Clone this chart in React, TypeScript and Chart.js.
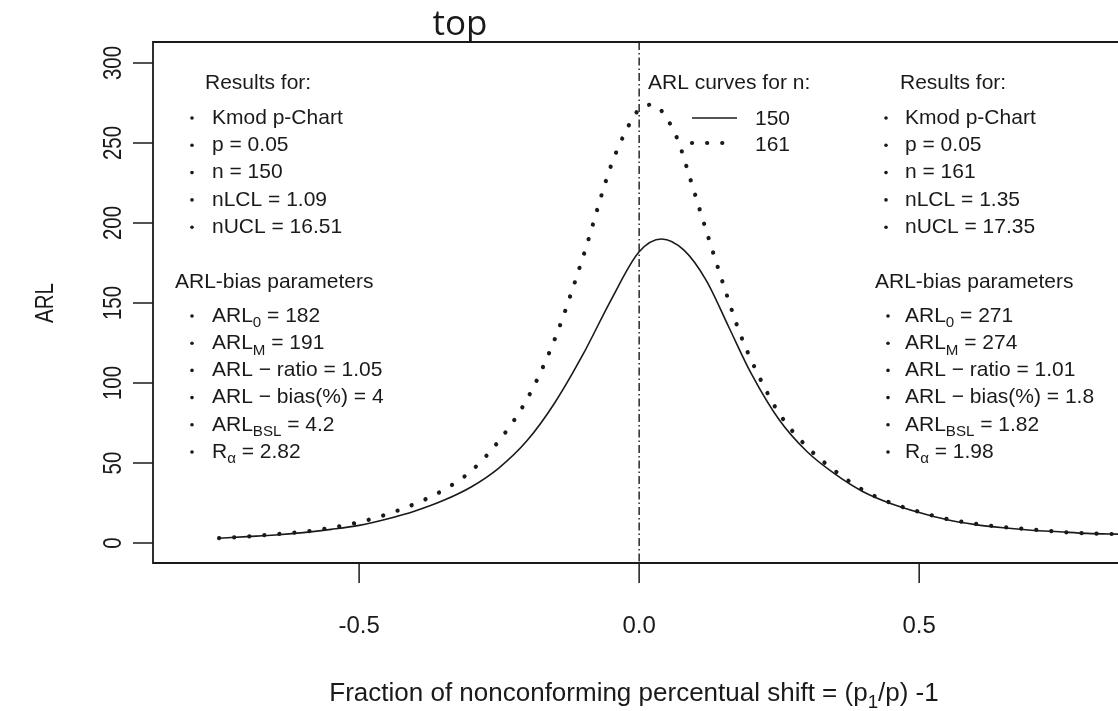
import { useEffect, useRef } from "react";
import { Chart, registerables } from "chart.js";

Chart.register(...registerables);

// ARL curve for n = 150 (solid)
const SHIFT_150 = [
  -0.75, -0.7, -0.65, -0.6, -0.55, -0.5, -0.45, -0.4, -0.35, -0.3, -0.25, -0.2, -0.15, -0.1, -0.05,
  0.0, 0.04, 0.08, 0.12, 0.16, 0.2, 0.25, 0.3, 0.35, 0.4, 0.45, 0.5, 0.55, 0.6, 0.65, 0.7, 0.75, 0.8, 0.86,
];
const ARL_150 = [
  3, 4, 5, 6.5, 8.5, 11, 15, 20, 26.5, 35, 47, 64, 88, 118, 152,
  182, 190, 183, 164, 135, 106, 77, 57, 43, 32, 24.5, 19, 14.5, 11.5, 9.5, 8, 7, 6, 5.5,
];

// ARL curve for n = 161 (dotted)
const SHIFT_161 = [
  -0.75, -0.7, -0.65, -0.6, -0.55, -0.5, -0.45, -0.4, -0.35, -0.3, -0.25, -0.2, -0.15, -0.1, -0.05, -0.02,
  0.0, 0.025, 0.05, 0.07, 0.09, 0.12, 0.15, 0.18, 0.21, 0.25, 0.3, 0.35, 0.4, 0.45, 0.5, 0.55, 0.6, 0.65,
  0.7, 0.75, 0.8, 0.86,
];
const ARL_161 = [
  3, 4, 5.5, 7, 9.5, 13, 18, 24.5, 33, 45, 64, 90, 128, 179, 236, 260,
  271, 274, 265, 251, 229, 195, 162, 131, 107, 81, 60, 45, 33, 25, 19.5, 15, 12, 10,
  8.5, 7, 6, 5.5,
];

const SERIES_LABELS = ["150", "161"];
const X_TICKS = [-0.5, 0, 0.5];
const X_TICK_LABELS = ["-0.5", "0.0", "0.5"];
const Y_TICKS = [0, 50, 100, 150, 200, 250, 300];
const X_RANGE = [-0.868, 0.855];
const Y_RANGE = [-12.5, 313.125];
const REFERENCE_SHIFT = 0;

// Text runs: [text, isSubscript]
type Run = [string, boolean];
const RESULTS_150: Run[][] = [
  [["Kmod p-Chart", false]],
  [["p = 0.05", false]],
  [["n = 150", false]],
  [["nLCL = 1.09", false]],
  [["nUCL = 16.51", false]],
];
const BIAS_150: Run[][] = [
  [["ARL", false], ["0", true], [" = 182", false]],
  [["ARL", false], ["M", true], [" = 191", false]],
  [["ARL \u2212 ratio = 1.05", false]],
  [["ARL \u2212 bias(%) = 4", false]],
  [["ARL", false], ["BSL", true], [" = 4.2", false]],
  [["R", false], ["\u03b1", true], [" = 2.82", false]],
];
const RESULTS_161: Run[][] = [
  [["Kmod p-Chart", false]],
  [["p = 0.05", false]],
  [["n = 161", false]],
  [["nLCL = 1.35", false]],
  [["nUCL = 17.35", false]],
];
const BIAS_161: Run[][] = [
  [["ARL", false], ["0", true], [" = 271", false]],
  [["ARL", false], ["M", true], [" = 274", false]],
  [["ARL \u2212 ratio = 1.01", false]],
  [["ARL \u2212 bias(%) = 1.8", false]],
  [["ARL", false], ["BSL", true], [" = 1.82", false]],
  [["R", false], ["\u03b1", true], [" = 1.98", false]],
];

const INK = "#1a1a1a";
const SANS = '"Liberation Sans", Arial, sans-serif';
const DOT_DASH = [0.1, 15];

function runsWidth(ctx: CanvasRenderingContext2D, runs: Run[], size: number) {
  let w = 0;
  for (const [t, sub] of runs) {
    ctx.font = `${sub ? size * 0.72 : size}px ${SANS}`;
    w += ctx.measureText(t).width;
  }
  return w;
}

function drawRuns(ctx: CanvasRenderingContext2D, x: number, y: number, runs: Run[], size: number) {
  let cx = x;
  for (const [text, sub] of runs) {
    const s = sub ? size * 0.72 : size;
    ctx.font = `${s}px ${SANS}`;
    ctx.fillText(text, cx, sub ? y + size * 0.34 : y);
    cx += ctx.measureText(text).width;
  }
}

function drawBlock(
  ctx: CanvasRenderingContext2D,
  header: string,
  hx: number,
  hy: number,
  bulletX: number,
  textX: number,
  firstY: number,
  rows: Run[][],
  size: number,
  step: number
) {
  ctx.font = `${size}px ${SANS}`;
  ctx.fillText(header, hx, hy);
  rows.forEach((runs, i) => {
    const y = firstY + i * step;
    ctx.beginPath();
    ctx.arc(bulletX, y, 1.8, 0, Math.PI * 2);
    ctx.fill();
    drawRuns(ctx, textX, y, runs, size);
  });
}

// rotated label, slightly widened across its baseline
function drawVertical(ctx: CanvasRenderingContext2D, text: string, x: number, y: number, size: number) {
  ctx.save();
  ctx.translate(x, y);
  ctx.rotate(-Math.PI / 2);
  ctx.scale(1, 1.22);
  ctx.font = `${size}px ${SANS}`;
  ctx.textAlign = "center";
  ctx.textBaseline = "middle";
  ctx.fillText(text, 0, 0);
  ctx.restore();
}

const decorations = {
  id: "decorations",
  beforeDatasetsDraw(chart: any) {
    const ctx: CanvasRenderingContext2D = chart.ctx;
    const { top, bottom } = chart.chartArea;
    const zx = chart.scales.x.getPixelForValue(REFERENCE_SHIFT);
    ctx.save();
    ctx.strokeStyle = INK;
    ctx.lineWidth = 1.4;
    ctx.setLineDash([8, 3, 1.5, 3]);
    ctx.beginPath();
    ctx.moveTo(zx, top);
    ctx.lineTo(zx, bottom);
    ctx.stroke();
    ctx.restore();
  },
  afterDraw(chart: any) {
    const ctx: CanvasRenderingContext2D = chart.ctx;
    const { left, top, right, bottom } = chart.chartArea;
    const xs = chart.scales.x;
    const ys = chart.scales.y;
    ctx.save();
    ctx.strokeStyle = INK;
    ctx.fillStyle = INK;

    // plot frame (left, top, bottom)
    ctx.lineWidth = 1.8;
    ctx.beginPath();
    ctx.moveTo(right + 2, top);
    ctx.lineTo(left, top);
    ctx.lineTo(left, bottom);
    ctx.lineTo(right + 2, bottom);
    ctx.stroke();

    // x axis ticks and labels
    ctx.lineWidth = 1.5;
    ctx.font = `24px ${SANS}`;
    ctx.textAlign = "center";
    ctx.textBaseline = "middle";
    X_TICKS.forEach((v, i) => {
      const px = xs.getPixelForValue(v);
      ctx.beginPath();
      ctx.moveTo(px, bottom);
      ctx.lineTo(px, bottom + 20);
      ctx.stroke();
      ctx.fillText(X_TICK_LABELS[i], px, 626);
    });

    // y axis ticks and rotated labels
    Y_TICKS.forEach((v) => {
      const py = ys.getPixelForValue(v);
      ctx.beginPath();
      ctx.moveTo(left, py);
      ctx.lineTo(left - 20, py);
      ctx.stroke();
      drawVertical(ctx, String(v), 114, py, 20.5);
    });

    // axis titles
    drawVertical(ctx, "ARL", 46, 303, 20.5);

    ctx.textAlign = "left";
    ctx.textBaseline = "middle";
    const xTitle: Run[] = [
      ["Fraction of nonconforming percentual shift = (p", false],
      ["1", true],
      ["/p) -1", false],
    ];
    const w = runsWidth(ctx, xTitle, 26);
    drawRuns(ctx, 634 - w / 2, 694, xTitle, 26);

    // main title
    ctx.textAlign = "center";
    ctx.textBaseline = "alphabetic";
    ctx.font = `35px "Open Sans", sans-serif`;
    ctx.fillText("top", 460, 35);

    // legend
    ctx.textAlign = "left";
    ctx.textBaseline = "middle";
    const fs = 21;
    ctx.font = `${fs}px ${SANS}`;
    ctx.fillText("ARL curves for n:", 648, 83);
    ctx.lineWidth = 1.6;
    ctx.beginPath();
    ctx.moveTo(692, 118);
    ctx.lineTo(737, 118);
    ctx.stroke();
    ctx.save();
    ctx.lineWidth = 4.2;
    ctx.lineCap = "round";
    ctx.setLineDash(DOT_DASH);
    ctx.beginPath();
    ctx.moveTo(692, 143);
    ctx.lineTo(737, 143);
    ctx.stroke();
    ctx.restore();
    ctx.fillText(SERIES_LABELS[0], 755, 119);
    ctx.fillText(SERIES_LABELS[1], 755, 145);

    // results blocks
    drawBlock(ctx, "Results for:", 205, 83, 192, 212, 118, RESULTS_150, fs, 27.3);
    drawBlock(ctx, "ARL-bias parameters", 175, 282, 192, 212, 316, BIAS_150, fs, 27.2);
    drawBlock(ctx, "Results for:", 900, 83, 886, 905, 118, RESULTS_161, fs, 27.3);
    drawBlock(ctx, "ARL-bias parameters", 875, 282, 888, 905, 316, BIAS_161, fs, 27.2);

    ctx.restore();
  },
};

export default function App() {
  const canvasRef = useRef<HTMLCanvasElement | null>(null);

  useEffect(() => {
    const canvas = canvasRef.current;
    if (!canvas) return;
    const chart = new Chart(canvas, {
      type: "line",
      data: {
        datasets: [
          {
            label: SERIES_LABELS[0],
            data: SHIFT_150.map((x, i) => ({ x, y: ARL_150[i] })),
            borderColor: INK,
            borderWidth: 1.6,
            pointRadius: 0,
            cubicInterpolationMode: "monotone",
            fill: false,
          },
          {
            label: SERIES_LABELS[1],
            data: SHIFT_161.map((x, i) => ({ x, y: ARL_161[i] })),
            borderColor: INK,
            borderWidth: 4.2,
            borderDash: DOT_DASH,
            borderCapStyle: "round",
            pointRadius: 0,
            cubicInterpolationMode: "monotone",
            fill: false,
          },
        ],
      },
      options: {
        animation: false,
        responsive: false,
        events: [],
        layout: { padding: { left: 153, top: 42, right: 0, bottom: 148 } },
        scales: {
          x: { type: "linear", min: X_RANGE[0], max: X_RANGE[1], display: false },
          y: { type: "linear", min: Y_RANGE[0], max: Y_RANGE[1], display: false },
        },
        plugins: {
          legend: { display: false },
          tooltip: { enabled: false },
          title: { display: false },
        },
      },
      plugins: [decorations],
    });
    return () => chart.destroy();
  }, []);

  return (
    <div style={{ position: "fixed", left: 0, top: 0, width: 1118, height: 711, background: "#fff" }}>
      <canvas ref={canvasRef} width={1118} height={711} />
    </div>
  );
}
